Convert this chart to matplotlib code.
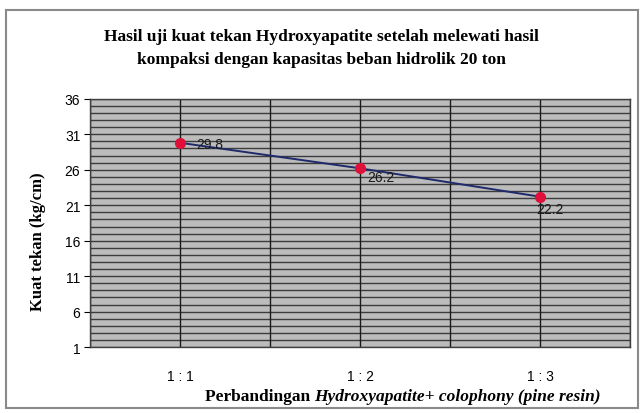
import matplotlib.pyplot as plt
import numpy as np
from matplotlib.patches import Rectangle

# data
categories = ["1 : 1", "1 : 2", "1 : 3"]
kuat_tekan = [29.8, 26.2, 22.2]
y_ticks = [1, 6, 11, 16, 21, 26, 31, 36]

serif = ["Liberation Serif", "DejaVu Serif"]
sans = ["Liberation Sans", "DejaVu Sans"]

# label offsets in points (dx, dy) from each marker
label_offsets = [(12, -1), (5, -6), (-3, -9)]

fig = plt.figure(figsize=(6.43, 4.14), dpi=100)

# outer chart border
fig.patches.append(Rectangle((0.010, 0.012), 0.982, 0.962, transform=fig.transFigure,
                             fill=False, edgecolor="#8a8a8a", linewidth=1.5))

ax = fig.add_axes([0.140, 0.159, 0.840, 0.600])
ax.set_facecolor("#bcbcbc")

x = np.arange(1, len(categories) + 1)
ax.set_xlim(0.5, len(categories) + 0.5)
ax.set_ylim(1, 36)

# horizontal grid every unit, vertical at centers and boundaries
for v in range(1, 37):
    ax.axhline(v, color="#3c3c3c", linewidth=1.0, zorder=1)
for v in np.arange(0.5, len(categories) + 0.6, 0.5):
    ax.axvline(v, color="#1a1a1a", linewidth=1.0, zorder=1)

ax.plot(x, kuat_tekan, color="#1f2a6b", linewidth=1.4, zorder=3)
ax.plot(x, kuat_tekan, "o", color="#e0103a", markersize=7, zorder=4)

for xi, yi, (dx, dy) in zip(x, kuat_tekan, label_offsets):
    ax.annotate(f"{yi:.1f}", (xi, yi), xytext=(dx, dy), textcoords="offset points",
                fontsize=10, family=sans, color="#1a1a1a", va="center", ha="left", zorder=5)

ax.set_xticks(x)
ax.set_xticklabels(categories, fontsize=10, family=sans)
ax.set_yticks(y_ticks)
ax.set_yticklabels([str(t) for t in y_ticks], fontsize=10, family=sans)
ax.tick_params(axis="x", length=0, pad=16)
ax.tick_params(axis="y", length=4, direction="out", pad=3)

for side in ["top", "right", "bottom", "left"]:
    ax.spines[side].set_color("#404040")
    ax.spines[side].set_linewidth(1.0)

ax.set_ylabel("Kuat tekan (kg/cm)", fontsize=12, family=serif, fontweight="bold")
ax.yaxis.set_label_coords(-0.082, 0.43)

fig.text(0.5, 0.911, "Hasil uji kuat tekan Hydroxyapatite setelah melewati hasil",
         ha="center", va="center", fontsize=12.5, family=serif, fontweight="bold")
fig.text(0.5, 0.855, "kompaksi dengan kapasitas beban hidrolik 20 ton",
         ha="center", va="center", fontsize=12.5, family=serif, fontweight="bold")

# x axis title: bold part followed by bold italic part
renderer = fig.canvas.get_renderer()
t1 = fig.text(205 / 643, 0.040, "Perbandingan ", ha="left", va="center", fontsize=12.5,
              family=serif, fontweight="bold")
w1 = t1.get_window_extent(renderer).width / fig.bbox.width
fig.text(205 / 643 + w1, 0.040, "Hydroxyapatite+ colophony (pine resin)", ha="left",
         va="center", fontsize=12.5, family=serif, fontweight="bold", style="italic")

fig.savefig("out.png", dpi=100)
